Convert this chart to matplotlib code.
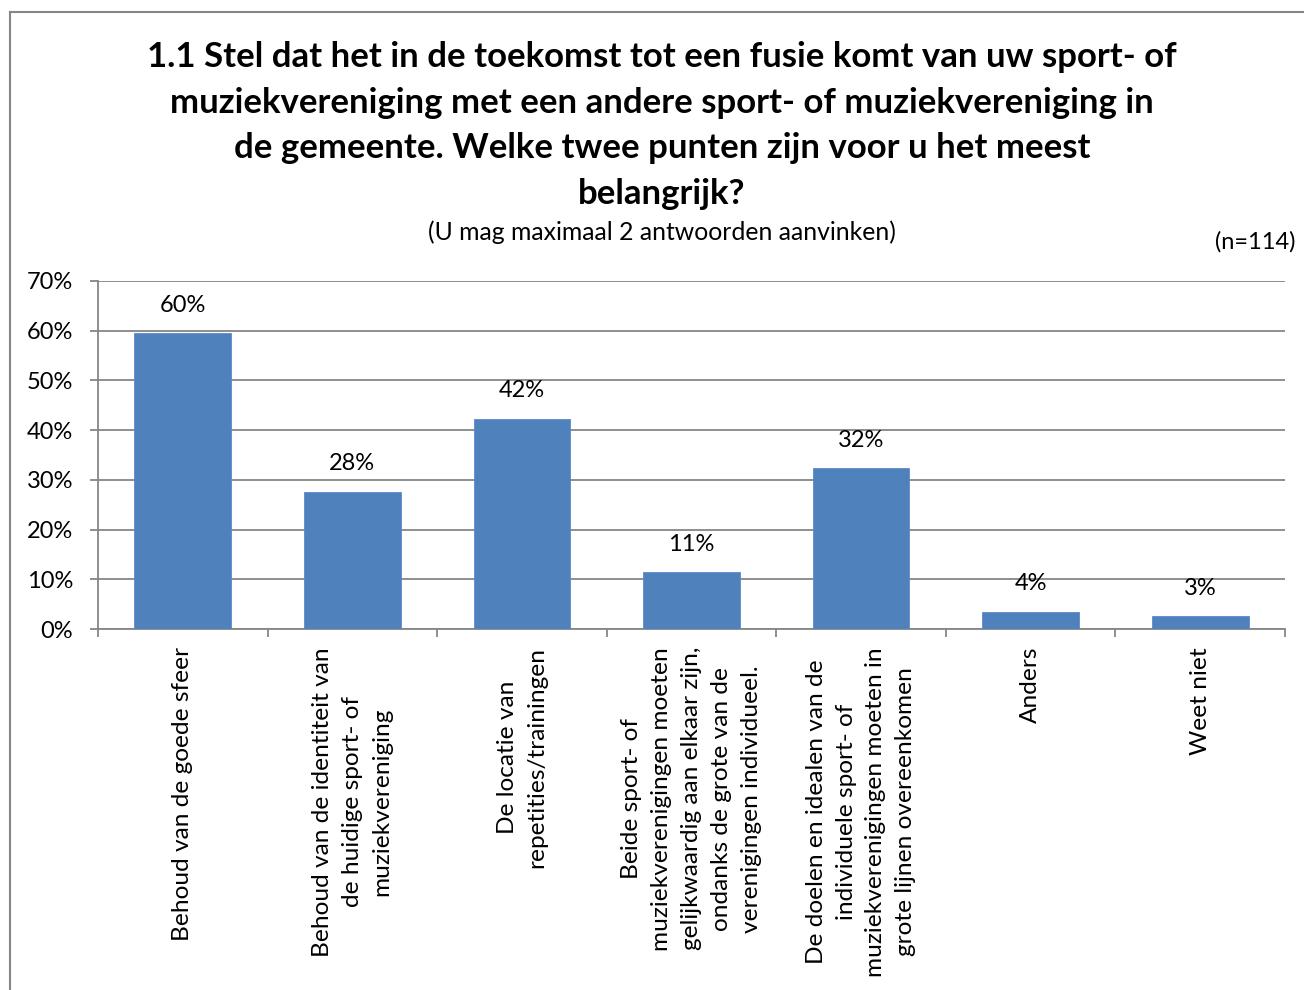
import numpy as np
import matplotlib.pyplot as plt
from matplotlib.lines import Line2D
from matplotlib.ticker import FuncFormatter

plt.rcParams['font.family'] = ['Lato', 'DejaVu Sans']

categories = [
    'Behoud van de goede sfeer',
    'Behoud van de identiteit van\nde huidige sport- of\nmuziekvereniging',
    'De locatie van\nrepetities/trainingen',
    'Beide sport- of\nmuziekverenigingen moeten\ngelijkwaardig aan elkaar zijn,\nondanks de grote van de\nverenigingen individueel.',
    'De doelen en idealen van de\nindividuele sport- of\nmuziekverenigingen moeten in\ngrote lijnen overeenkomen',
    'Anders',
    'Weet niet',
]
values = [59.5, 27.6, 42.3, 11.4, 32.3, 3.5, 2.6]
value_labels = ['60%', '28%', '42%', '11%', '32%', '4%', '3%']

title = ('1.1 Stel dat het in de toekomst tot een fusie komt van uw sport- of\n'
         'muziekvereniging met een andere sport- of muziekvereniging in\n'
         'de gemeente. Welke twee punten zijn voor u het meest\n'
         'belangrijk?')
subtitle = '(U mag maximaal 2 antwoorden aanvinken)'
n_text = '(n=114)'

grey = '#868686'
fig = plt.figure(figsize=(13.04, 9.9), dpi=100)
ax = fig.add_axes([98 / 1304, 1 - 629 / 990, 1187 / 1304, 348 / 990])

x = np.arange(len(categories))
ax.bar(x, values, width=0.57, color='#4F81BD', edgecolor='#5B8ACB', linewidth=0.6, zorder=3)
for xi, v, lab in zip(x, values, value_labels):
    ax.text(xi, v + 5.6, lab, ha='center', va='center', fontsize=17)

ax.set_xlim(-0.5, len(categories) - 0.5)
ax.set_ylim(0, 70)
ax.set_yticks(np.arange(0, 71, 10))
ax.yaxis.set_major_formatter(FuncFormatter(lambda v, p: '%d%%' % v))
ax.grid(axis='y', color=grey, linewidth=1.3, zorder=0)

# category boundaries as ticks, labels at centres
ax.set_xticks(np.arange(-0.5, len(categories)))
ax.set_xticklabels([])
ax.tick_params(axis='x', length=6, direction='out', color=grey, width=1.3)
ax.tick_params(axis='y', length=6, direction='out', color=grey, width=1.3, labelsize=17, pad=12)
for xi, lab in zip(x, categories):
    ax.text(xi, -3.6, lab, rotation=90, ha='center', va='top', multialignment='center',
            fontsize=17.6, linespacing=1.52)

for s in ['top', 'right']:
    ax.spines[s].set_visible(False)
for s in ['left', 'bottom']:
    ax.spines[s].set_color(grey)
    ax.spines[s].set_linewidth(1.3)

fig.text(662 / 1304, 1 - 41 / 990, title, ha='center', va='top', fontsize=25,
         fontweight='bold', linespacing=1.52)
fig.text(662 / 1304, 1 - 232 / 990, subtitle, ha='center', va='center', fontsize=17.8)
fig.text(1295 / 1304, 1 - 242 / 990, n_text, ha='right', va='center', fontsize=17)

# chart frame
fig.add_artist(Line2D([10 / 1304, 10 / 1304], [0, 1 - 12 / 990], transform=fig.transFigure,
                      color=grey, linewidth=1.5))
fig.add_artist(Line2D([10 / 1304, 1], [1 - 12 / 990, 1 - 12 / 990], transform=fig.transFigure,
                      color=grey, linewidth=1.5))

fig.savefig('out.png', dpi=100)
